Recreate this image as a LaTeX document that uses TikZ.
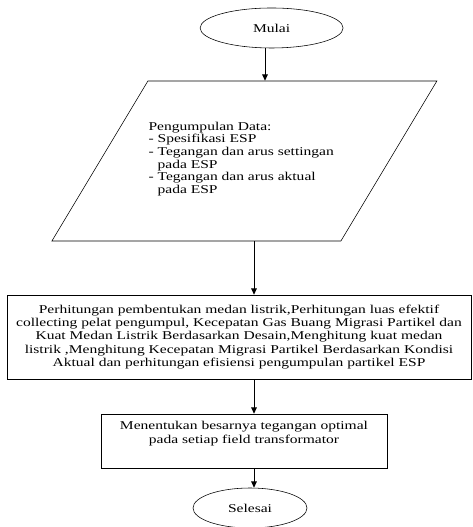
\documentclass[tikz,border=0pt]{standalone}
\usepackage{fontspec}
\setmainfont{Liberation Serif}[FakeStretch=1.3]
\usetikzlibrary{shapes.geometric,arrows.meta}

\begin{document}
\begin{tikzpicture}[->,>={Triangle[length=4.5pt,width=4pt]},line width=0.7pt]
	\def \toprow{12.475}
	\def \datarow{9.15}
	\def \calcrow{4.75}
	\def \optrow{2.15}
	\def \endrow{0.475}

	\tikzstyle{term}=[ellipse,draw=black,thin,minimum width=3.575cm,minimum height=1cm,inner sep=1pt]
	\tikzstyle{io}=[rectangle,draw=black,thin,minimum width=7.225cm,minimum height=4cm,xslant=0.6,transform shape]
	\tikzstyle{iotext}=[align=left,inner sep=0pt,font=\fontsize{8.5}{9}\selectfont]
	\tikzstyle{proc}=[rectangle,draw=black,thin,align=center,inner sep=2pt,font=\fontsize{8.5}{9.4}\selectfont]

	\useasboundingbox (0,0) rectangle (11.8,13.175);
	\fontsize{8.5}{9.4}\selectfont

	% start / end
	\node[term] 	(mulai)		at (6.79,\toprow)	{Mulai};
	\node[term,minimum width=2.85cm] 	(selesai)	at (6.25,\endrow)	{Selesai};

	% data (parallelogram)
	\coordinate (datac) at (6.11,\datarow);
	\node[io] 	(data)	at (datac)	{};
	\node[iotext] 	(datatext)	at (6.03,9.2)	{Pengumpulan Data:\\
		- Spesifikasi ESP\\
		- Tegangan dan arus settingan\\
		\hphantom{- }pada ESP\\
		- Tegangan dan arus aktual\\
		\hphantom{- }pada ESP};

	% process
	\node[proc,minimum width=11.6cm,minimum height=2.1cm] 	(hitung)	at (5.975,\calcrow)	{Perhitungan pembentukan medan listrik,Perhitungan luas efektif\\
		collecting pelat pengumpul, Kecepatan Gas Buang Migrasi Partikel dan\\
		Kuat Medan Listrik Berdasarkan Desain,Menghitung kuat medan\\
		listrik ,Menghitung Kecepatan Migrasi Partikel Berdasarkan Kondisi\\
		Aktual dan perhitungan efisiensi pengumpulan partikel ESP};
	\node[proc,minimum width=7.15cm,minimum height=1.35cm] 	(tentukan)	at (6.1,\optrow)	{Menentukan besarnya tegangan optimal\\
		pada setiap field transformator\\ \strut};

	\coordinate (col1) at (6.625,0);
	\coordinate (col2) at (6.35,0);

	\draw (mulai.south -| col1) -- (data.north -| col1);
	\draw (data.south -| col2) -- (hitung.north -| col2);
	\draw (hitung.south -| col2) -- (tentukan.north -| col2);
	\draw (tentukan.south -| col2) -- (selesai.north -| col2);
\end{tikzpicture}
\end{document}
